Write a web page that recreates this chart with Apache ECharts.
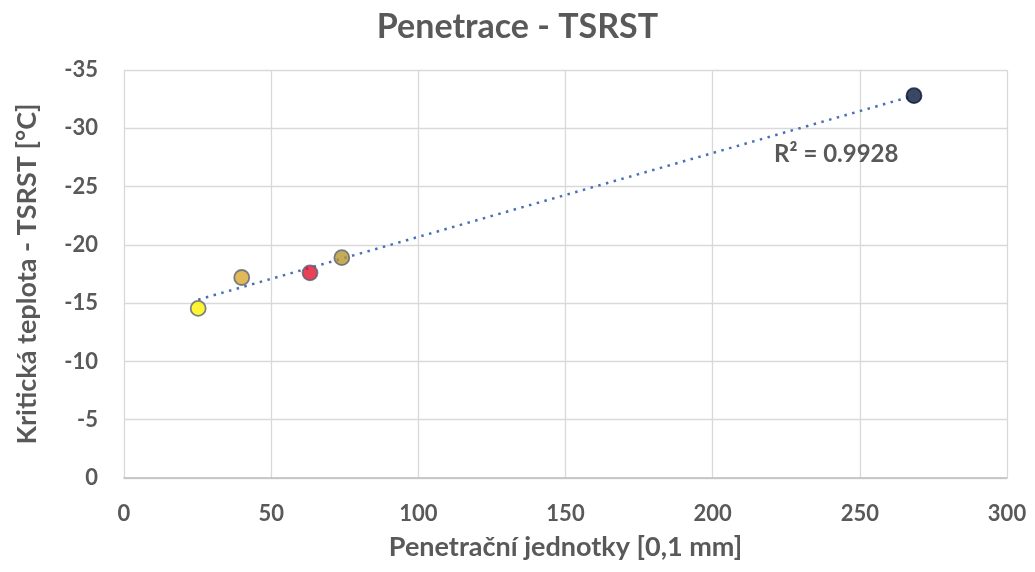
<!DOCTYPE html>
<html><head><meta charset="utf-8">
<script src="https://cdn.jsdelivr.net/npm/echarts@6/dist/echarts.min.js"></script>
<style>html,body{margin:0;padding:0;background:#fff}#c{width:1035px;height:572px}</style>
</head><body><div id="c"></div>
<script>
const penetration = [25.2, 40.0, 63.2, 74.0, 268.4];
const tsrst = [-14.55, -17.2, -17.6, -18.9, -32.8];
const pointColors = ['#FFF200', '#D9A82E', '#E3122E', '#B89630', '#0B1A3C'];
const borderColors = ['#5B6478', '#5B6478', '#5B6478', '#5B6478', '#0B1A3C'];
const trendX = [25.2, 268.4];
const trendY = [-15.3, -32.8];
const r2Text = 'R² = 0.9928';

const gray = '#595959';
const font = 'Lato';
const chart = echarts.init(document.getElementById('c'));
chart.setOption({
  animation: false,
  title: {text: 'Penetrace - TSRST', left: 'center', top: 5,
    textStyle: {fontFamily: font, fontSize: 34, fontWeight: 'bold', color: gray}},
  grid: {left: 124, right: 28, top: 70, bottom: 94},
  xAxis: {type: 'value', min: 0, max: 300, interval: 50,
    name: 'Penetrační jednotky [0,1 mm]', nameLocation: 'middle', nameGap: 56,
    nameTextStyle: {fontFamily: font, fontSize: 27, fontWeight: 'bold', color: gray},
    axisLine: {show: true, lineStyle: {color: '#bfbfbf', width: 1.5}},
    axisTick: {show: false},
    axisLabel: {fontFamily: font, fontSize: 22, fontWeight: 'bold', color: gray, margin: 25},
    splitLine: {show: true, lineStyle: {color: '#d9d9d9', width: 1.3}}},
  yAxis: {type: 'value', min: -35, max: 0, interval: 5, inverse: true,
    name: 'Kritická teplota - TSRST [°C]', nameLocation: 'middle', nameGap: 83, nameRotate: 90,
    nameTextStyle: {fontFamily: font, fontSize: 27, fontWeight: 'bold', color: gray},
    axisLine: {show: false}, axisTick: {show: false},
    axisLabel: {fontFamily: font, fontSize: 22, fontWeight: 'bold', color: gray, margin: 26},
    splitLine: {show: true, lineStyle: {color: '#d9d9d9', width: 1.3}}},
  series: [
    {type: 'line', data: trendX.map((x, i) => [x, trendY[i]]), symbol: 'none',
      lineStyle: {color: '#4A6FB5', width: 2.5, type: [2.5, 5.5]}, z: 2, silent: true,
      markPoint: {symbol: 'rect', symbolSize: 1, itemStyle: {color: 'transparent'},
        data: [{coord: [242, -27.8], label: {show: true, formatter: r2Text,
          fontFamily: font, fontSize: 24, fontWeight: 'bold', color: gray}}]}},
    {type: 'scatter', symbolSize: 15, z: 3,
      data: penetration.map((x, i) => ({value: [x, tsrst[i]],
        itemStyle: {color: pointColors[i], borderColor: borderColors[i], borderWidth: 1.8}}))}
  ]
});
</script></body></html>
